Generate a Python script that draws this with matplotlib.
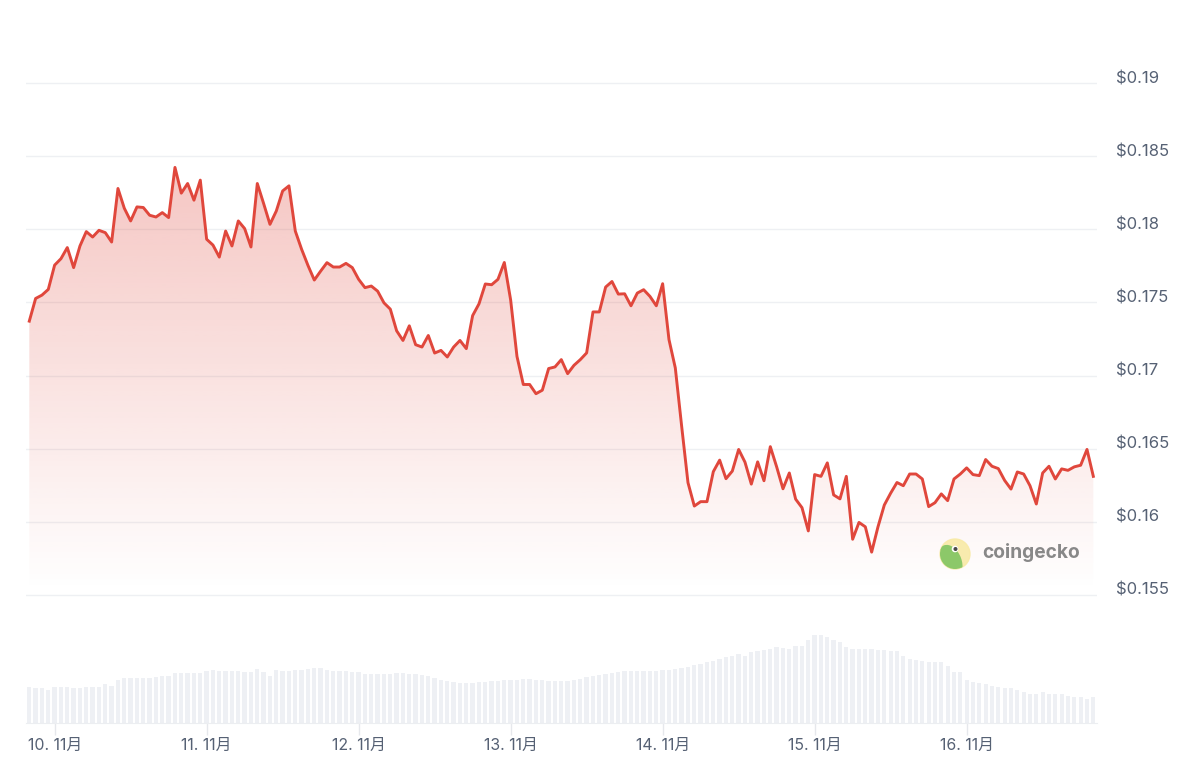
import matplotlib
matplotlib.use('Agg')
import matplotlib.pyplot as plt
import matplotlib.dates as mdates
import matplotlib.transforms as mtransforms
from matplotlib.colors import to_rgb
from matplotlib.patches import Circle, Ellipse
import numpy as np
import pandas as pd

# hourly price (USD)
price = [
    0.17372, 0.17527, 0.17550, 0.17589, 0.17755, 0.17799, 0.17875, 0.17738, 0.17886, 0.17984,
    0.17947, 0.17993, 0.17977, 0.17913, 0.18279, 0.18144, 0.18057, 0.18153, 0.18149, 0.18096,
    0.18084, 0.18114, 0.18080, 0.18423, 0.18247, 0.18313, 0.18199, 0.18336, 0.17932, 0.17892,
    0.17810, 0.17988, 0.17886, 0.18057, 0.18005, 0.17879, 0.18313, 0.18176, 0.18034, 0.18125,
    0.18262, 0.18297, 0.17988, 0.17863, 0.17753, 0.17653, 0.17714, 0.17772, 0.17742, 0.17742,
    0.17767, 0.17738, 0.17658, 0.17601, 0.17612, 0.17577, 0.17497, 0.17454, 0.17306, 0.17240,
    0.17340, 0.17211, 0.17195, 0.17274, 0.17154, 0.17172, 0.17127, 0.17195, 0.17240, 0.17184,
    0.17410, 0.17490, 0.17626, 0.17621, 0.17658, 0.17773, 0.17517, 0.17131, 0.16939, 0.16939,
    0.16876, 0.16900, 0.17048, 0.17059, 0.17109, 0.17013, 0.17070, 0.17109, 0.17155, 0.17435,
    0.17435, 0.17605, 0.17643, 0.17557, 0.17559, 0.17477, 0.17564, 0.17587, 0.17541, 0.17477,
    0.17628, 0.17246, 0.17052, 0.16654, 0.16268, 0.16108, 0.16138, 0.16138, 0.16343, 0.16422,
    0.16295, 0.16347, 0.16495, 0.16408, 0.16258, 0.16410, 0.16281, 0.16514, 0.16376, 0.16226,
    0.16334, 0.16155, 0.16097, 0.15938, 0.16323, 0.16311, 0.16403, 0.16184, 0.16157, 0.16311,
    0.15881, 0.15996, 0.15966, 0.15793, 0.15966, 0.16115, 0.16196, 0.16269, 0.16247, 0.16327,
    0.16327, 0.16293, 0.16104, 0.16131, 0.16191, 0.16145, 0.16293, 0.16327, 0.16369, 0.16323,
    0.16316, 0.16426, 0.16380, 0.16364, 0.16283, 0.16224, 0.16341, 0.16327, 0.16247, 0.16122,
    0.16334, 0.16380, 0.16293, 0.16362, 0.16352, 0.16376, 0.16387, 0.16495, 0.16311,
]

# hourly volume (relative units)
volume = [
    36, 35, 35, 33.3, 36, 36, 36, 35, 35, 36,
    36, 36, 39, 37.3, 43.3, 44.7, 44.7, 44.7, 44.7, 44.7,
    46, 47.3, 47.3, 50, 50, 50, 50, 50, 52.3, 53.3,
    52.3, 51.7, 51.7, 51.7, 50.7, 50.7, 54.3, 50.7, 47.3, 52.7,
    51.7, 51.7, 52.7, 52.7, 54, 54.7, 54.7, 53.3, 52.3, 52.3,
    51.7, 50.7, 50.7, 49.3, 49.3, 49.3, 49.3, 49.3, 50, 50,
    49, 49, 48, 47, 45, 43, 42, 41, 40,
    40, 40, 41, 41, 42, 42, 43, 43, 43, 44,
    44, 43, 43, 42, 42, 42, 42, 43, 44, 46,
    47, 48, 49, 50, 51, 52, 52, 52, 52, 52,
    52, 53, 53, 54, 55, 56, 58, 59.3, 60.7, 61.7,
    64.3, 65.7, 67.3, 69, 67.3, 70.7, 71.7, 73.3, 74.3, 75.7,
    75, 74.3, 77.3, 77.3, 83.3, 87.7, 87.7, 86, 83.3, 80.7,
    76, 74.3, 74.3, 74.3, 74.3, 73.3, 73.3, 71.7, 71.7, 67.3,
    64.3, 63.3, 61.7, 60.7, 60.7, 60.7, 57.3, 50.7, 50.7, 43.3,
    40.7, 40, 39.3, 37.3, 36, 35, 35, 33.3, 30.7, 29,
    29, 30.7, 29, 29, 29, 27.3, 26, 26, 24.3, 26,
]

times = pd.date_range('2024-11-09 20:00', periods=len(price), freq='h')
day_ticks = pd.date_range('2024-11-10', '2024-11-16', freq='D')

ytick_values = [0.155, 0.16, 0.165, 0.17, 0.175, 0.18, 0.185, 0.19]
ytick_labels = ['$0.155', '$0.16', '$0.165', '$0.17', '$0.175', '$0.18', '$0.185', '$0.19']

LINE = '#e0473c'
TEXT = '#566174'
GRID = '#eef0f3'
BAR = '#eef0f4'


def main():
    plt.rcParams['font.family'] = ['Inter', 'Noto Sans CJK JP', 'DejaVu Sans']

    fig = plt.figure(figsize=(12, 7.74), dpi=100)
    W, H = 1200, 774

    # price panel and volume panel, placed in pixel terms
    ax = fig.add_axes([26 / W, 1 - 600 / H, 1071 / W, 560 / H])
    vax = fig.add_axes([26 / W, 1 - 723 / H, 1071 / W, 123 / H], sharex=ax)

    x = mdates.date2num(times)
    hour = 1 / 24
    xlim = (x[0] - 0.52 * hour, x[-1] + 0.58 * hour)

    # gradient area under the line
    base = 0.1553
    poly = ax.fill_between(x, price, base, color='none', lw=0)
    n = 256
    rgba = np.zeros((n, 1, 4))
    rgba[..., :3] = to_rgb(LINE)
    rgba[..., 3] = np.linspace(0.31, 0.0, n).reshape(-1, 1)
    img = ax.imshow(rgba, aspect='auto', extent=[x[0], x[-1], base, 0.1845],
                    origin='upper', zorder=1, interpolation='bilinear')
    img.set_clip_path(poly.get_paths()[0], ax.transData)

    ax.plot(x, price, color=LINE, lw=2.1, solid_joinstyle='round', zorder=3)

    ax.set_xlim(*xlim)
    ax.set_ylim(0.154657, 0.192940)
    ax.set_yticks(ytick_values)
    ax.set_yticklabels(ytick_labels)
    ax.yaxis.tick_right()
    ax.tick_params(axis='y', length=0, pad=14, labelcolor=TEXT, labelsize=12)
    ax.tick_params(axis='x', bottom=False, labelbottom=False)
    ax.grid(axis='y', color=GRID, lw=1)
    ax.set_axisbelow(True)
    for s in ax.spines.values():
        s.set_visible(False)

    # lift y labels a little above their grid lines
    offset = mtransforms.ScaledTranslation(0, 0.06, fig.dpi_scale_trans)
    for lab in ax.get_yticklabels():
        lab.set_transform(lab.get_transform() + offset)

    # volume bars
    vax.bar(x, volume, width=0.68 * hour, color=BAR, lw=0)
    vax.set_ylim(0, 123)
    vax.set_xlim(*xlim)
    vax.set_yticks([])
    vax.set_xticks(mdates.date2num(day_ticks))
    vax.xaxis.set_major_formatter(mdates.DateFormatter('%d. %m月'))
    vax.tick_params(axis='x', length=8.6, width=1, color='#e6e8ec', pad=2,
                    labelcolor=TEXT, labelsize=11.4)
    for k in ['top', 'left', 'right']:
        vax.spines[k].set_visible(False)
    vax.spines['bottom'].set_color('#eceef1')
    vax.patch.set_alpha(0)

    # coingecko watermark
    over = fig.add_axes([0, 0, 1, 1], zorder=5)
    over.set_xlim(0, W)
    over.set_ylim(H, 0)
    over.axis('off')
    ring = Circle((955, 554), 15, color='#f8eaa6', alpha=0.9)
    over.add_patch(ring)
    head = Ellipse((950, 562), 22, 34, angle=-20, color='#8cc869')
    over.add_patch(head)
    head.set_clip_path(ring)
    over.add_patch(Circle((955, 549), 2.6, color='white'))
    over.add_patch(Circle((955.5, 549), 1.3, color='#4a4a4a'))
    over.text(982, 553, 'coingecko', fontsize=13.8, fontweight='bold',
              color='#888888', va='center', ha='left')

    fig.savefig('out.png', dpi=100)


if __name__ == '__main__':
    main()
